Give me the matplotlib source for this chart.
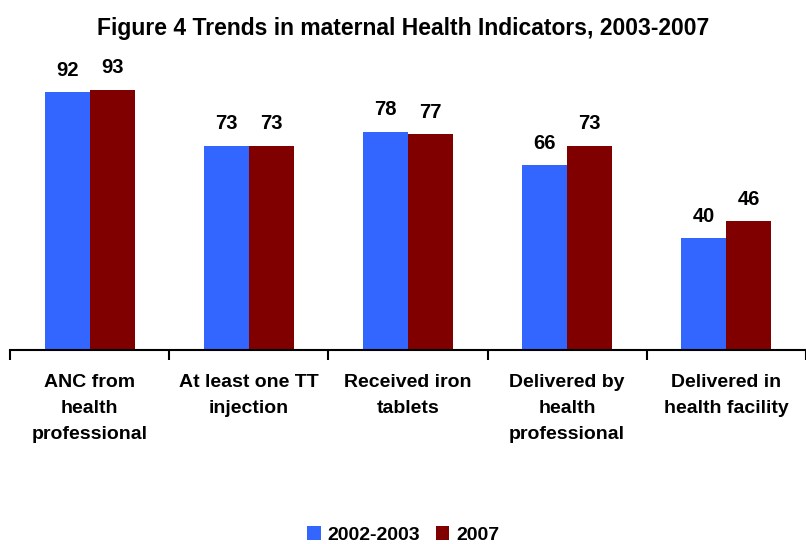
import numpy as np
import matplotlib
matplotlib.use("Agg")
import matplotlib.pyplot as plt

plt.rcParams["font.family"] = ["Liberation Sans", "DejaVu Sans"]

categories = ["ANC from\nhealth\nprofessional", "At least one TT\ninjection",
              "Received iron\ntablets", "Delivered by\nhealth\nprofessional",
              "Delivered in\nhealth facility"]
v_2003 = [92, 73, 78, 66, 40]
v_2007 = [93, 73, 77, 73, 46]
series = ["2002-2003", "2007"]
colors = ["#3366FF", "#800000"]

fig = plt.figure(figsize=(8.06, 5.44), dpi=100)
ax = fig.add_axes([10 / 806, (544 - 350) / 544, 796 / 806, 280 / 544])

x = np.arange(len(categories))
w = 0.283
b1 = ax.bar(x - w / 2, v_2003, w, color=colors[0], label=series[0])
b2 = ax.bar(x + w / 2, v_2007, w, color=colors[1], label=series[1])

for bars, vals in ((b1, v_2003), (b2, v_2007)):
    for b, v in zip(bars, vals):
        ax.annotate(str(v), (b.get_x() + b.get_width() / 2, v), xytext=(0, 9),
                    textcoords="offset points", ha="center", va="bottom",
                    fontsize=14.5, fontweight="bold")

ax.set_xlim(-0.5, len(categories) - 0.5)
ax.set_ylim(0, 100)
ax.set_yticks([])
for s in ["top", "right", "left"]:
    ax.spines[s].set_visible(False)
ax.spines["bottom"].set_linewidth(1.5)
ax.set_xticks(np.arange(len(categories) + 1) - 0.5)
ax.set_xticklabels([])
ax.tick_params(axis="x", direction="out", length=7, width=1.5)
ax.set_xticks(x, minor=True)
ax.set_xticklabels(categories, minor=True, fontsize=14, fontweight="bold",
                   linespacing=1.7, va="top")
ax.tick_params(axis="x", which="minor", length=0, pad=17)

fig.text(0.5, 1 - 28 / 544, "Figure 4 Trends in maternal Health Indicators, 2003-2007",
         ha="center", va="center", fontsize=16.5, fontweight="bold")

fig.legend(handles=[b1, b2], labels=series, loc="center", bbox_to_anchor=(0.5, 1 - 535 / 544),
           ncol=2, frameon=False, prop={"size": 14, "weight": "bold"},
           handlelength=0.7, handleheight=0.7, handletextpad=0.35, columnspacing=0.8)

fig.savefig("out.png", dpi=100)
